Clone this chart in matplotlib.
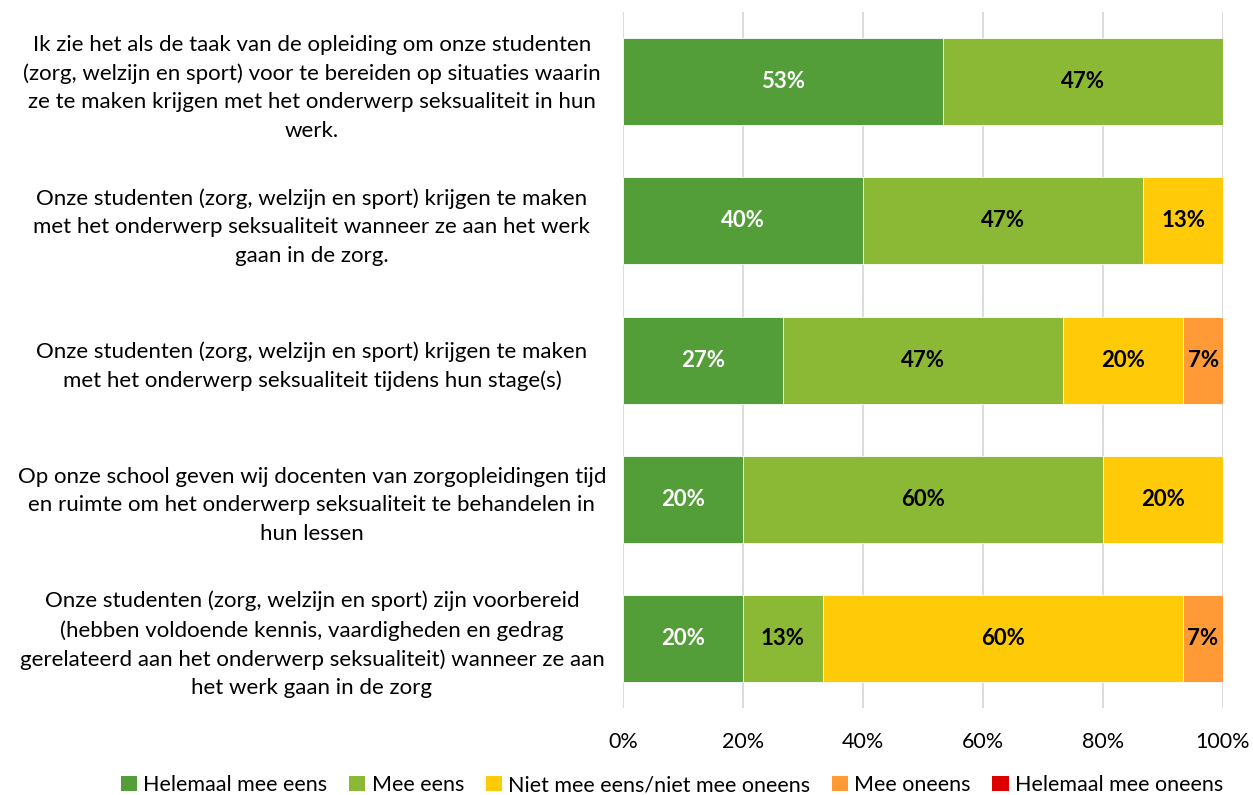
import matplotlib.pyplot as plt
import numpy as np
from matplotlib.patches import Patch

plt.rcParams['font.family'] = ['Lato', 'DejaVu Sans']

statements = [
    "Ik zie het als de taak van de opleiding om onze studenten\n(zorg, welzijn en sport) voor te bereiden op situaties waarin\nze te maken krijgen met het onderwerp seksualiteit in hun\nwerk.",
    "Onze studenten (zorg, welzijn en sport) krijgen te maken\nmet het onderwerp seksualiteit wanneer ze aan het werk\ngaan in de zorg.",
    "Onze studenten (zorg, welzijn en sport) krijgen te maken\nmet het onderwerp seksualiteit tijdens hun stage(s)",
    "Op onze school geven wij docenten van zorgopleidingen tijd\nen ruimte om het onderwerp seksualiteit te behandelen in\nhun lessen",
    "Onze studenten (zorg, welzijn en sport) zijn voorbereid\n(hebben voldoende kennis, vaardigheden en gedrag\ngerelateerd aan het onderwerp seksualiteit) wanneer ze aan\nhet werk gaan in de zorg",
]

answers = ["Helemaal mee eens", "Mee eens", "Niet mee eens/niet mee oneens",
           "Mee oneens", "Helemaal mee oneens"]
colors = ["#549E39", "#8BB835", "#FFCA08", "#FF9A37", "#DD0000"]
text_colors = ["white", "black", "black", "black", "white"]

# shares per statement (fractions)
helemaal_eens = [0.533, 0.400, 0.267, 0.200, 0.200]
mee_eens = [0.467, 0.467, 0.467, 0.600, 0.133]
neutraal = [0.000, 0.133, 0.200, 0.200, 0.600]
mee_oneens = [0.000, 0.000, 0.067, 0.000, 0.067]
helemaal_oneens = [0.000, 0.000, 0.000, 0.000, 0.000]
series = [helemaal_eens, mee_eens, neutraal, mee_oneens, helemaal_oneens]

fig = plt.figure(figsize=(12.53, 7.95), dpi=100)
ax = fig.add_axes([623 / 1253, 1 - 708 / 795, 600 / 1253, 696 / 795])

y = np.arange(len(statements))
left = np.zeros(len(statements))
for vals, col, tcol in zip(series, colors, text_colors):
    vals = np.array(vals)
    ax.barh(y, vals, left=left, height=0.625, color=col, edgecolor='white', linewidth=0.6, zorder=3)
    for yi, l, v in zip(y, left, vals):
        if v > 0:
            ax.text(l + v / 2, yi, f"{v * 100:.0f}%", ha='center', va='center',
                    color=tcol, fontsize=16, fontweight='bold', zorder=4)
    left += vals

ax.set_xlim(0, 1)
ax.set_ylim(len(statements) - 0.5, -0.5)
ax.set_xticks(np.arange(0, 1.01, 0.2))
ax.set_xticklabels([f"{int(t * 100)}%" for t in np.arange(0, 1.01, 0.2)], fontsize=15.5)
ax.set_yticks(y)
ax.set_yticklabels(statements, fontsize=16, ha='center', linespacing=1.52)
# pad in points: label centres sit around x = 311 px
ax.tick_params(axis='y', length=0, pad=224)
ax.tick_params(axis='x', length=0, pad=17)
ax.grid(axis='x', color='#D9D9D9', linewidth=1.3, zorder=0)
for s in ax.spines.values():
    s.set_visible(False)

handles = [Patch(facecolor=c, edgecolor='none') for c in colors]
fig.legend(handles, answers, loc='center', bbox_to_anchor=(672 / 1253, 1 - 785 / 795),
           ncol=5, frameon=False, fontsize=15.5, handlelength=0.75, handleheight=0.75,
           handletextpad=0.3, columnspacing=1.0)

fig.savefig('out.png', dpi=100)
